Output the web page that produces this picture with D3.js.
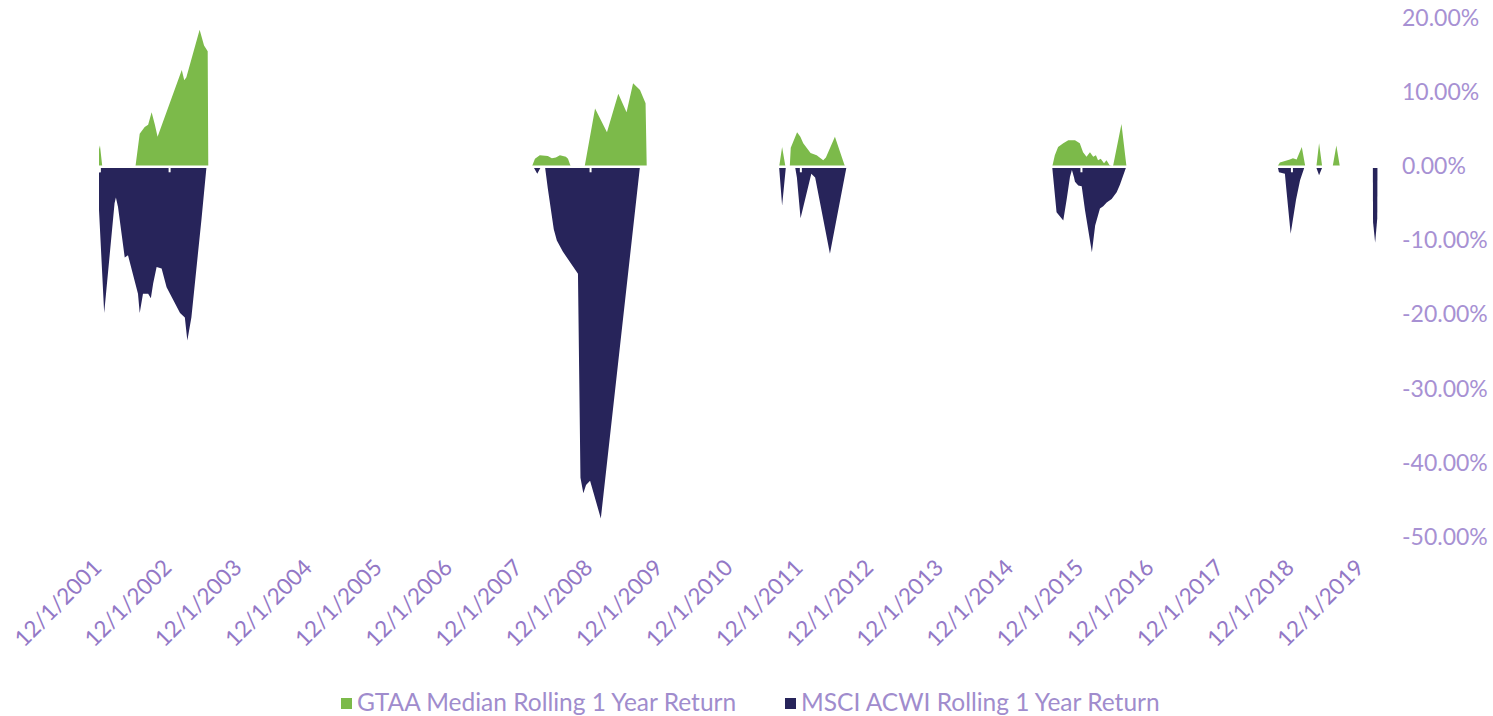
<!DOCTYPE html>
<html>
<head>
<meta charset="utf-8">
<script src="https://cdn.jsdelivr.net/npm/d3@7/dist/d3.min.js"></script>
<style>
  html, body { margin: 0; padding: 0; background: #ffffff; }
  svg { display: block; }
  text { font-family: Lato, "Open Sans", sans-serif; }
</style>
</head>
<body>
<svg id="chart" width="1493" height="716"></svg>
<script>
// Rolling 1-year returns (%) during the months when MSCI ACWI was negative
const seriesNames = ["GTAA Median Rolling 1 Year Return", "MSCI ACWI Rolling 1 Year Return"];
const seriesColors = ["#7cba4a", "#27245a"];
const tickLabels = ["12/1/2001","12/1/2002","12/1/2003","12/1/2004","12/1/2005","12/1/2006",
  "12/1/2007","12/1/2008","12/1/2009","12/1/2010","12/1/2011","12/1/2012","12/1/2013",
  "12/1/2014","12/1/2015","12/1/2016","12/1/2017","12/1/2018","12/1/2019"];
const yTicks = [20, 10, 0, -10, -20, -30, -40, -50];

// GTAA median, [date, return %]
const gtaa2002 = [["2001-12-01",2.3],["2001-12-06",2.8],["2001-12-18",0],["2002-06-09",0],["2002-07-01",4.4],
  ["2002-07-27",5.3],["2002-08-14",5.6],["2002-09-01",7.3],["2002-09-18",5.6],["2002-10-02",4.0],["2003-02-05",13.0],
  ["2003-02-18",11.6],["2003-03-01",12.0],["2003-05-09",18.4],["2003-06-01",16.3],["2003-06-20",15.5],["2003-06-23",0]];
const gtaa2008 = [["2008-02-03",0],["2008-02-18",1.0],["2008-03-14",1.5],["2008-04-25",1.4],["2008-05-16",1.1],
  ["2008-06-06",1.2],["2008-06-27",1.5],["2008-07-28",1.3],["2008-08-08",1.0],["2008-08-22",0],["2008-11-03",0],
  ["2008-12-27",7.8],["2009-02-27",4.6],["2009-04-27",9.8],["2009-06-09",7.3],["2009-07-13",11.2],["2009-08-18",10.3],
  ["2009-09-16",8.5],["2009-09-22",0]];
const gtaa2011 = [["2011-08-13",0],["2011-08-28",2.6],["2011-09-14",0],["2011-10-07",0],["2011-10-12",2.5],
  ["2011-11-14",4.6],["2011-12-01",4.0],["2011-12-16",3.1],["2012-01-23",1.8],["2012-02-24",1.5],["2012-03-29",0.8],
  ["2012-04-12",1.2],["2012-05-29",4.0],["2012-07-20",0]];
const gtaa2015 = [["2015-07-05",0],["2015-07-18",1.5],["2015-08-04",2.6],["2015-08-31",3.1],["2015-09-26",3.5],
  ["2015-10-31",3.5],["2015-11-25",3.1],["2015-12-12",1.9],["2015-12-30",1.3],["2016-01-17",1.9],["2016-02-03",1.3],
  ["2016-02-17",1.5],["2016-02-28",0.8],["2016-03-13",1.0],["2016-03-30",0.4],["2016-04-12",0.8],["2016-04-29",0.1],
  ["2016-05-16",0],["2016-06-29",5.7],["2016-07-25",0]];
const gtaa2018 = [["2018-09-20",0],["2018-10-02",0.5],["2018-10-28",0.7],["2018-11-23",0.9],["2018-12-09",1.1],
  ["2018-12-28",0.9],["2019-01-24",2.6],["2019-02-11",0],["2019-04-10",0],["2019-04-24",3.1],["2019-05-10",0],
  ["2019-07-04",0],["2019-07-23",2.8],["2019-08-10",0]];

// MSCI ACWI, [date, return %]
const msci2002 = [["2001-12-01",-5.9],["2001-12-28",-19.8],["2002-02-20",-5.0],["2002-02-27",-4.2],["2002-03-10",-5.5],
  ["2002-04-14",-12.3],["2002-05-01",-12.0],["2002-06-22",-17.2],["2002-07-01",-19.8],["2002-07-18",-17.2],
  ["2002-08-14",-17.2],["2002-08-28",-17.8],["2002-09-09",-15.8],["2002-09-27",-13.6],["2002-10-23",-13.8],
  ["2002-11-18",-16.3],["2003-01-27",-19.8],["2003-02-21",-20.4],["2003-03-06",-23.5],["2003-03-27",-20.4],
  ["2003-05-18",-7.3],["2003-06-14",0]];
const msci2008 = [["2008-02-08",0],["2008-03-01",-1.0],["2008-03-22",0],["2008-04-10",0],["2008-04-25",-3.0],
  ["2008-05-26",-8.5],["2008-06-11",-10.0],["2008-07-12",-11.5],["2008-09-29",-14.5],["2008-10-12",-42.0],
  ["2008-10-27",-44.1],["2008-11-10",-43.0],["2008-12-01",-42.4],["2009-01-26",-47.5],["2009-08-18",0]];
const msci2011 = [["2011-08-12",0],["2011-08-28",-5.3],["2011-09-17",0],["2011-11-03",0],["2011-11-13",-1.5],
  ["2011-12-02",-7.0],["2012-01-27",-1.0],["2012-02-16",-1.5],["2012-05-03",-11.8],["2012-07-29",0]];
const msci2015 = [["2015-07-04",0],["2015-07-27",-6.2],["2015-08-31",-7.3],["2015-09-18",-4.4],["2015-10-05",-1.4],
  ["2015-10-15",-0.5],["2015-10-26",-1.5],["2015-10-31",-2.1],["2015-11-17",-2.6],["2015-12-05",-2.7],
  ["2015-12-22",-5.9],["2016-01-27",-11.6],["2016-02-13",-8.0],["2016-03-09",-5.7],["2016-03-26",-5.4],
  ["2016-04-13",-4.9],["2016-05-09",-4.4],["2016-06-04",-3.5],["2016-06-21",-2.5],["2016-07-25",0]];
const msci2018 = [["2018-09-20",0],["2018-09-27",-0.8],["2018-10-28",-1.0],["2018-11-06",-3.5],["2018-11-27",-9.1],
  ["2018-12-25",-4.5],["2019-01-15",-1.9],["2019-02-02",-0.5],["2019-02-08",0],["2019-04-07",0],["2019-04-24",-1.2],
  ["2019-05-13",0]];
const msci2020 = [["2020-01-29",0],["2020-01-30",-7.5],["2020-02-10",-10.3],["2020-02-21",-7.0],["2020-02-22",0]];

const parseDate = d3.timeParse("%Y-%m-%d");
const parseTick = d3.timeParse("%m/%d/%Y");
const toPoints = arr => arr.map(([d, v]) => ({ date: parseDate(d), value: v }));

const gtaa = [gtaa2002, gtaa2008, gtaa2011, gtaa2015, gtaa2018].map(toPoints);
const msci = [msci2002, msci2008, msci2011, msci2015, msci2018, msci2020].map(toPoints);

const svg = d3.select("#chart");

const x = d3.scaleTime()
  .domain([parseDate("2001-12-01"), parseDate("2020-03-01")])
  .range([99, 1379]);
const y = d3.scaleLinear().domain([-50, 20]).range([537, 18]);

const area = d3.area()
  .x(d => x(d.date))
  .y0(y(0))
  .y1(d => y(d.value));

// GTAA underneath, MSCI on top
svg.append("g").selectAll("path").data(gtaa).join("path")
  .attr("d", area).attr("fill", seriesColors[0]);
svg.append("g").selectAll("path").data(msci).join("path")
  .attr("d", area).attr("fill", seriesColors[1]);

// horizontal axis at zero (white line with small tick notches)
const tickDates = tickLabels.map(parseTick);
const xAxis = d3.axisBottom(x).tickValues(tickDates).tickSize(6).tickFormat("");
const gx = svg.append("g").attr("transform", `translate(0,${y(0)})`).call(xAxis);
gx.select(".domain").attr("stroke", "#ffffff").attr("stroke-width", 2.5);
gx.selectAll(".tick line").attr("stroke", "#ffffff").attr("stroke-width", 2);

// rotated date labels
svg.append("g").selectAll("text").data(tickDates).join("text")
  .attr("transform", d => `translate(${x(d) + 4},569) rotate(-45)`)
  .attr("text-anchor", "end")
  .attr("font-size", 22.5)
  .attr("fill", "#9378c6")
  .text((d, i) => tickLabels[i]);

// right-hand percentage axis
const yAxis = d3.axisRight(y).tickValues(yTicks).tickSize(0).tickPadding(0)
  .tickFormat(d => (d < 0 ? "-" : "") + Math.abs(d).toFixed(2) + "%");
const gy = svg.append("g").attr("transform", "translate(1402,0)").call(yAxis);
gy.select(".domain").remove();
gy.selectAll("text")
  .attr("font-family", "Lato, 'Open Sans', sans-serif")
  .attr("font-size", 23)
  .attr("fill", "#a791d3");

// legend
const legend = svg.append("g");
const legendX = [341, 785];
seriesNames.forEach((name, i) => {
  legend.append("rect")
    .attr("x", legendX[i]).attr("y", 698).attr("width", 11).attr("height", 11)
    .attr("fill", seriesColors[i]);
  legend.append("text")
    .attr("x", legendX[i] + 16).attr("y", 711)
    .attr("font-size", 24.5)
    .attr("fill", "#a08ccd")
    .text(name);
});
</script>
</body>
</html>
